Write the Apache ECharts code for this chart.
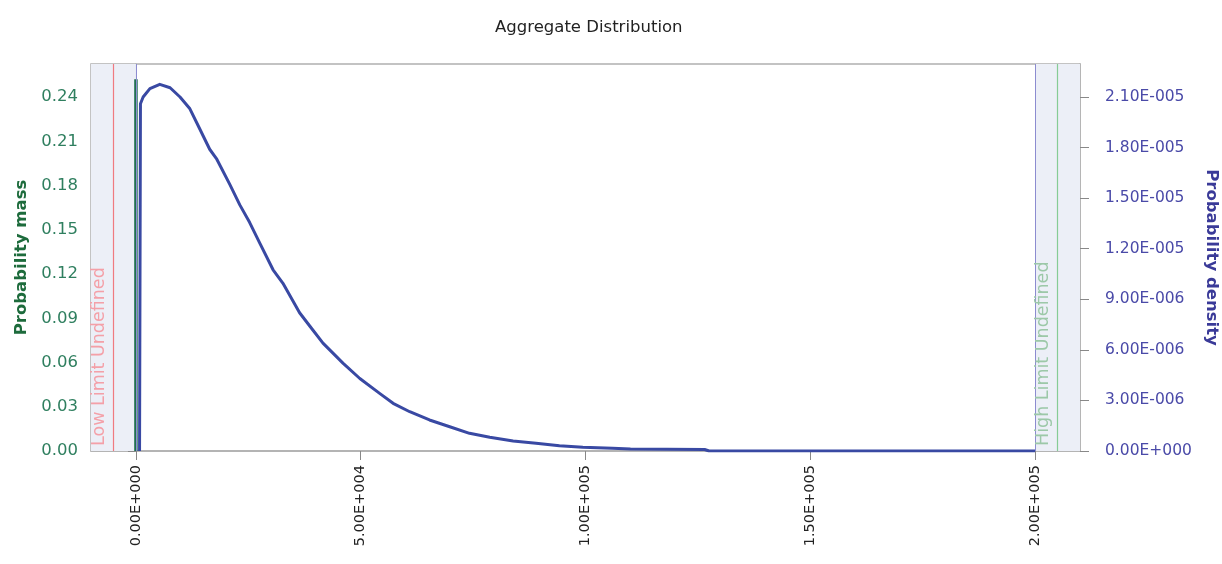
<!DOCTYPE html>
<html>
<head>
<meta charset="utf-8">
<title>Aggregate Distribution</title>
<script src="https://cdn.jsdelivr.net/npm/echarts@6/dist/echarts.min.js"></script>
<style>
  html, body { margin: 0; padding: 0; background: #fff; }
  #chart { width: 1222px; height: 564px; }
</style>
</head>
<body>
<div id="chart"></div>
<script>
// 数据：概率密度曲线 (x, density)
var densityX = [800, 1000, 1600, 3100, 5300, 7600, 9800, 12000, 14200, 16400, 17900, 20900, 23100,
  25300, 27600, 30500, 32700, 36400, 38700, 41600, 46100, 49800, 54200, 57200, 60900, 65300,
  69800, 74200, 78700, 83900, 89000, 94200, 99400, 106000, 110000, 118000, 126500, 127500, 200000]
var densityY = [0, 2.06e-5, 2.10e-5, 2.15e-5, 2.175e-5, 2.155e-5, 2.10e-5, 2.03e-5, 1.91e-5, 1.79e-5,
  1.735e-5, 1.58e-5, 1.46e-5, 1.355e-5, 1.23e-5, 1.075e-5, 0.995e-5, 0.82e-5, 0.74e-5, 0.64e-5,
  0.52e-5, 0.43e-5, 0.342e-5, 0.283e-5, 0.233e-5, 0.184e-5, 0.144e-5, 0.105e-5, 0.081e-5, 0.059e-5,
  0.046e-5, 0.031e-5, 0.022e-5, 0.016e-5, 0.012e-5, 0.010e-5, 0.009e-5, 0, 0]

// 概率质量 (x=0 处的点质量)
var massX = [0]
var massY = [0.252]

// 刻度
var xTicks = [0, 50000, 100000, 150000, 200000]
var massTicks = [0, 0.03, 0.06, 0.09, 0.12, 0.15, 0.18, 0.21, 0.24]
var densTicks = [0, 3e-6, 6e-6, 9e-6, 1.2e-5, 1.5e-5, 1.8e-5, 2.1e-5]

// 上下限
var lowLimit = -5000
var highLimit = 205000
var rangeStart = 0
var rangeEnd = 200000

function sci(v) {
  if (Math.abs(v) < 1e-20) return '0.00E+000'
  var e = Math.floor(Math.log10(Math.abs(v)) + 1e-9)
  var m = (v / Math.pow(10, e)).toFixed(2)
  if (Math.abs(parseFloat(m)) >= 10) { e += 1; m = (v / Math.pow(10, e)).toFixed(2) }
  var s = e < 0 ? '-' : '+'
  var ee = String(Math.abs(e))
  while (ee.length < 3) ee = '0' + ee
  return m + 'E' + s + ee
}

var myChart = echarts.init(document.getElementById('chart'))

var font = 'DejaVu Sans'

// 点质量画成竖线
var massLines = []
massX.forEach(function (x, i) {
  massLines.push([x, 0], [x, massY[i]], null)
})

var option = {
  backgroundColor: '#fff',
  animation: false,
  title: {
    text: 'Aggregate Distribution',
    left: 490,
    top: 14,
    textStyle: { fontFamily: font, fontSize: 16.5, fontWeight: 'normal', color: '#222' },
  },
  grid: {
    left: 91,
    right: 142,
    top: 64,
    bottom: 113,
    outerBoundsMode: 'none',
    show: true,
    borderColor: '#b0b0b0',
    borderWidth: 1.5,
  },
  xAxis: {
    type: 'value',
    min: -10000,
    max: 210000,
    axisLine: { show: true, onZero: false, lineStyle: { color: '#b0b0b0', width: 1.5 } },
    axisTick: { show: true, length: 9, customValues: xTicks, lineStyle: { color: '#888' } },
    axisLabel: {
      customValues: xTicks,
      rotate: 90,
      margin: 14,
      fontFamily: font,
      fontSize: 14.5,
      color: '#222',
      formatter: function (v) { return sci(v) },
    },
    splitLine: { show: false },
  },
  yAxis: [
    {
      type: 'value',
      min: 0,
      max: 0.24 * 387 / 354,
      position: 'left',
      name: 'Probability mass',
      nameLocation: 'middle',
      nameGap: 60,
      nameTextStyle: { fontFamily: font, fontSize: 16.5, fontWeight: 'bold', color: '#1d6b3c' },
      axisLine: { show: true, lineStyle: { color: '#b0b0b0', width: 1.5 } },
      axisTick: { show: true, length: 8, customValues: massTicks, lineStyle: { color: '#888' } },
      axisLabel: {
        customValues: massTicks,
        margin: 13,
        fontFamily: font,
        fontSize: 16.5,
        color: '#2f7f5f',
        formatter: function (v) { return v.toFixed(2) },
      },
      splitLine: { show: false },
    },
    {
      type: 'value',
      min: 0,
      max: 2.1e-5 * 387 / 354,
      position: 'right',
      name: 'Probability density',
      nameLocation: 'middle',
      nameRotate: -90,
      nameGap: 118,
      nameTextStyle: { fontFamily: font, fontSize: 16.5, fontWeight: 'bold', color: '#3a3a98' },
      axisLine: { show: true, lineStyle: { color: '#b0b0b0', width: 1.5 } },
      axisTick: { show: true, length: 9, customValues: densTicks, lineStyle: { color: '#888' } },
      axisLabel: {
        customValues: densTicks,
        margin: 25,
        fontFamily: font,
        fontSize: 15.5,
        color: '#4a4aa8',
        formatter: function (v) { return sci(v) },
      },
      splitLine: { show: false },
    },
  ],
  series: [
    {
      // 密度曲线 + 背景区域 + 界限线
      type: 'line',
      yAxisIndex: 1,
      symbol: 'none',
      z: 3,
      lineStyle: { color: '#3949a3', width: 3, join: 'round' },
      data: densityX.map(function (x, i) { return [x, densityY[i]] }),
      markArea: {
        silent: true,
        itemStyle: { color: '#eceff7' },
        data: [
          [{ xAxis: -10000 }, { xAxis: rangeStart }],
          [{ xAxis: rangeEnd }, { xAxis: 210000 }],
        ],
      },
      markLine: {
        silent: true,
        symbol: ['none', 'none'],
        animation: false,
        data: [
          {
            xAxis: lowLimit,
            lineStyle: { color: '#f07a80', width: 1.2, type: 'solid' },
            label: {
              show: true,
              position: 'insideStartTop',
              formatter: 'Low Limit Undefined',
              fontFamily: font,
              fontSize: 17.5,
              color: '#f4a0a8',
              distance: 5,
            },
          },
          {
            xAxis: highLimit,
            lineStyle: { color: '#86cc96', width: 1.2, type: 'solid' },
            label: {
              show: true,
              position: 'insideStartTop',
              formatter: 'High Limit Undefined',
              fontFamily: font,
              fontSize: 17.5,
              color: '#9cc8a8',
              distance: 5,
            },
          },
          { xAxis: rangeStart, lineStyle: { color: '#8c8cd0', width: 1, type: 'solid' }, label: { show: false } },
          { xAxis: rangeEnd, lineStyle: { color: '#8c8cd0', width: 1, type: 'solid' }, label: { show: false } },
        ],
      },
    },
    {
      // 点质量
      type: 'line',
      yAxisIndex: 0,
      symbol: 'none',
      connectNulls: false,
      z: 4,
      lineStyle: { color: '#1f6e50', width: 3.5 },
      data: massLines,
    },
  ],
}

myChart.setOption(option, true)
</script>
</body>
</html>
